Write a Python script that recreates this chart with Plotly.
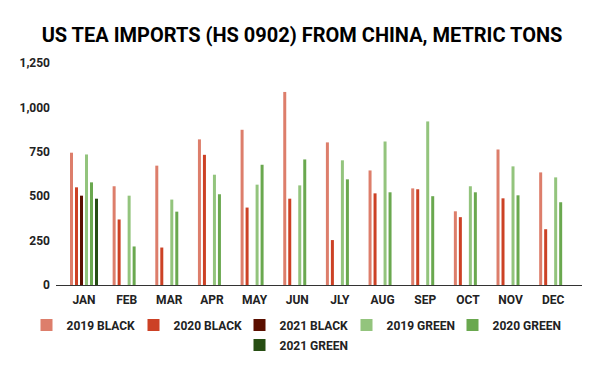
import plotly.graph_objects as go

months = ["JAN", "FEB", "MAR", "APR", "MAY", "JUN", "JLY", "AUG", "SEP", "OCT", "NOV", "DEC"]

black_2019 = [745, 556, 672, 820, 874, 1087, 803, 645, 544, 415, 763, 634]
black_2020 = [550, 369, 211, 733, 436, 486, 253, 516, 539, 382, 488, 314]
black_2021 = [503, None, None, None, None, None, None, None, None, None, None, None]
green_2019 = [735, 503, 481, 621, 565, 561, 702, 808, 921, 556, 668, 606]
green_2020 = [578, 217, 413, 511, 677, 707, 595, 522, 500, 522, 505, 466]
green_2021 = [486, None, None, None, None, None, None, None, None, None, None, None]

series_names = ["2019 BLACK", "2020 BLACK", "2021 BLACK", "2019 GREEN", "2020 GREEN", "2021 GREEN"]
series_values = [black_2019, black_2020, black_2021, green_2019, green_2020, green_2021]
series_colors = ["#dd7e6b", "#cc4125", "#5b0f00", "#93c47d", "#6aa84f", "#274e13"]

y_ticks = [0, 250, 500, 750, 1000, 1250]

FONT = "Roboto"
W, H = 592, 363  # page body has an 8px margin; figure fills the rest of the 600x371 window

# legend entry placement (figure px): one legend per series, laid out in two centred rows
legend_x = [18.5, 125.5, 231.5, 338.5, 444.5, 231.5]
legend_y = [317, 317, 317, 317, 317, 337]

legend_font = dict(family=FONT, size=12, color="#222222", weight="bold")

fig = go.Figure()
legend_layouts = {}
for i, (name, vals, col) in enumerate(zip(series_names, series_values, series_colors)):
    key = "legend" if i == 0 else f"legend{i + 1}"
    fig.add_trace(go.Bar(
        x=months, y=vals, name=name,
        marker=dict(color=col, line=dict(width=0)),
        legend=key,
    ))
    legend_layouts[key] = dict(
        orientation="h", xref="container", yref="container",
        x=legend_x[i] / W, xanchor="left", y=1 - legend_y[i] / H, yanchor="middle",
        font=legend_font, bgcolor="rgba(0,0,0,0)",
    )

fig.update_layout(
    width=W, height=H,
    margin=dict(l=48, r=18, t=55, b=86, autoexpand=False),
    paper_bgcolor="white", plot_bgcolor="white",
    barmode="group", bargap=0.2966, bargroupgap=0.4,
    title=dict(
        text="US TEA IMPORTS (HS 0902) FROM CHINA, METRIC TONS",
        x=294 / W, xanchor="center", xref="container", y=1 - 27 / H, yanchor="middle", yref="container",
        font=dict(family=FONT, size=20, color="#000000", weight="bold"),
    ),
    xaxis=dict(
        type="category", range=[-0.656, 11.676],
        showline=True, linecolor="#333333", linewidth=1,
        ticks="", showgrid=False, ticklabelstandoff=4,
        tickfont=dict(family=FONT, size=12, color="#222222", weight="bold"),
    ),
    yaxis=dict(
        range=[0, 1250], tickvals=y_ticks, tickformat=",",
        showgrid=False, zeroline=False, showline=False, ticks="",
        ticklabelstandoff=5,
        tickfont=dict(family=FONT, size=12, color="#222222", weight="bold"),
    ),
    showlegend=True,
    **legend_layouts,
)

fig.write_html("out.html")
